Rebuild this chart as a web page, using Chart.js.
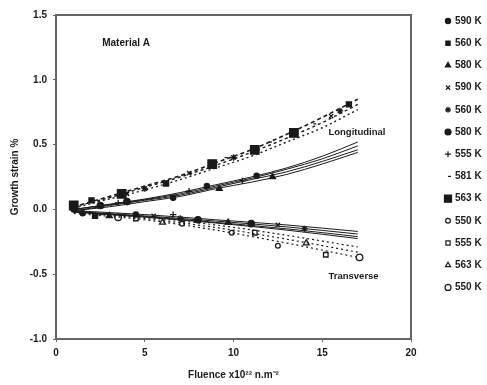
<!DOCTYPE html>
<html>
<head>
<meta charset="utf-8">
<script src="https://cdn.jsdelivr.net/npm/chart.js@4/dist/chart.umd.min.js"></script>
<style>
html,body{margin:0;padding:0;background:#fff;}
#wrap{width:487px;height:385px;position:relative;}
</style>
</head>
<body>
<div id="wrap"><canvas id="c" width="487" height="385"></canvas></div>
<script>
// ---- Data ----
const xTicks = [0, 5, 10, 15, 20];
const yTicks = [-1.0, -0.5, 0.0, 0.5, 1.0, 1.5];

// fitted curves (fluence, growth strain %)
const fitX = [1, 3, 5, 7, 9, 11, 13, 15, 17];
const longDashA = [0.02, 0.10, 0.18, 0.26, 0.36, 0.46, 0.58, 0.71, 0.85];
const longDashB = [0.02, 0.09, 0.17, 0.25, 0.34, 0.44, 0.55, 0.67, 0.81];
const longDashC = [0.01, 0.08, 0.15, 0.23, 0.32, 0.41, 0.52, 0.63, 0.77];
const longSolidA = [0.00, 0.04, 0.08, 0.13, 0.19, 0.25, 0.32, 0.41, 0.52];
const longSolidB = [0.00, 0.035, 0.075, 0.12, 0.18, 0.24, 0.31, 0.39, 0.49];
const longSolidC = [-0.01, 0.03, 0.07, 0.11, 0.17, 0.23, 0.29, 0.37, 0.46];
const longSolidD = [-0.01, 0.02, 0.06, 0.10, 0.16, 0.21, 0.27, 0.35, 0.44];
const transX = [1, 5, 9, 13, 17];
const transSolidA = [-0.01, -0.04, -0.08, -0.12, -0.17];
const transSolidB = [-0.015, -0.05, -0.09, -0.135, -0.19];
const transSolidC = [-0.02, -0.055, -0.10, -0.15, -0.21];
const transSolidD = [-0.02, -0.06, -0.105, -0.16, -0.225];
const transDotA = [-0.02, -0.06, -0.12, -0.20, -0.29];
const transDotB = [-0.02, -0.07, -0.14, -0.23, -0.33];
const transDotC = [-0.03, -0.08, -0.16, -0.26, -0.37];

// measured points per legend series
const seriesLabels = ['590 K','560 K','580 K','590 K','560 K','580 K','555 K','581 K','563 K','550 K','555 K','563 K','550 K'];
const s1x = [1.0, 6.6, 8.5, 11.3, 1.5, 4.5],  s1y = [0.00, 0.09, 0.18, 0.26, -0.03, -0.04];
const s2x = [2.0, 6.2, 1.0, 2.2, 16.5],       s2y = [0.07, 0.20, 0.03, -0.05, 0.81];
const s3x = [9.2, 12.2, 3.0, 9.7],            s3y = [0.16, 0.25, -0.05, -0.10];
const s4x = [4.0, 7.5, 15.5, 5.5, 12.5],      s4y = [0.12, 0.28, 0.72, -0.05, -0.12];
const s5x = [5.0, 10.0, 16.0, 7.0, 14.0],     s5y = [0.16, 0.40, 0.76, -0.07, -0.15];
const s6x = [2.5, 4.0, 8.0, 11.0],            s6y = [0.03, 0.06, -0.08, -0.11];
const s7x = [3.5, 7.5, 10.5, 6.6],            s7y = [0.05, 0.14, 0.22, -0.04];
const s8x = [9.5, 12.0, 14.5, 2.5],           s8y = [0.40, 0.52, 0.66, -0.04];
const s9x = [1.0, 3.7, 8.8, 11.2, 13.4],      s9y = [0.03, 0.12, 0.35, 0.46, 0.59];
const s10x = [7.1, 9.9, 12.5],                s10y = [-0.11, -0.18, -0.28];
const s11x = [4.5, 11.2, 15.2],               s11y = [-0.07, -0.18, -0.35];
const s12x = [6.0, 14.1],                     s12y = [-0.10, -0.26];
const s13x = [3.5, 17.1],                     s13y = [-0.06, -0.37];

// ---- styles ----
const INK = '#1a1a1a';
const markerStyles = [
  {pointStyle:'circle', radius:2.6, fill:true},
  {pointStyle:'rect', radius:3.6, fill:true},
  {pointStyle:'triangle', radius:3.4, fill:true},
  {pointStyle:'crossRot', radius:3, fill:false},
  {pointStyle:'star', radius:3.2, fill:false},
  {pointStyle:'circle', radius:3.2, fill:true},
  {pointStyle:'cross', radius:3.2, fill:false},
  {pointStyle:'dash', radius:3, fill:false},
  {pointStyle:'rect', radius:6, fill:true},
  {pointStyle:'circle', radius:2.4, fill:false},
  {pointStyle:'rect', radius:3.2, fill:false},
  {pointStyle:'triangle', radius:3.4, fill:false},
  {pointStyle:'circle', radius:3.3, fill:false}
];
const seriesX = [s1x,s2x,s3x,s4x,s5x,s6x,s7x,s8x,s9x,s10x,s11x,s12x,s13x];
const seriesY = [s1y,s2y,s3y,s4y,s5y,s6y,s7y,s8y,s9y,s10y,s11y,s12y,s13y];

function pts(xs, ys){ return xs.map((x,i)=>({x:x, y:ys[i]})); }
function fitLine(xs, ys, dash, w){
  return {type:'line', data:pts(xs, ys), showLine:true, pointRadius:0, borderColor:INK,
    borderWidth:w, borderDash:dash, cubicInterpolationMode:'monotone', fill:false};
}

const datasets = [
  fitLine(fitX, longDashA, [4,3], 1.6),
  fitLine(fitX, longDashB, [3,3], 1.4),
  fitLine(fitX, longDashC, [2,3], 1.4),
  fitLine(fitX, longSolidA, [], 1),
  fitLine(fitX, longSolidB, [], 1),
  fitLine(fitX, longSolidC, [], 1),
  fitLine(fitX, longSolidD, [], 1),
  fitLine(transX, transSolidA, [], 1),
  fitLine(transX, transSolidB, [], 1),
  fitLine(transX, transSolidC, [], 1),
  fitLine(transX, transSolidD, [], 1),
  fitLine(transX, transDotA, [2,3], 1.2),
  fitLine(transX, transDotB, [2,3], 1.2),
  fitLine(transX, transDotC, [2,3], 1.2)
];
seriesLabels.forEach((lab, i) => {
  const m = markerStyles[i];
  datasets.push({type:'scatter', label:lab, data:pts(seriesX[i], seriesY[i]), showLine:false,
    pointStyle:m.pointStyle, pointRadius:m.radius, pointHoverRadius:m.radius,
    pointBackgroundColor: m.fill ? INK : '#fff', pointBorderColor:INK, pointBorderWidth:1.3});
});

const FONT = 'Liberation Sans, Arial, sans-serif';

const framePlugin = {
  id:'frame',
  afterDraw(chart){
    const {ctx, chartArea:a, scales} = chart;
    ctx.save();
    ctx.strokeStyle = '#666';
    ctx.lineWidth = 2;
    ctx.strokeRect(a.left, a.top, a.right - a.left, a.bottom - a.top);
    // annotations
    ctx.fillStyle = INK;
    ctx.textBaseline = 'middle';
    ctx.font = 'bold 10px ' + FONT;
    ctx.textAlign = 'center';
    ctx.fillText('Material A', scales.x.getPixelForValue(3.95), scales.y.getPixelForValue(1.28));
    ctx.textAlign = 'left';
    ctx.font = 'bold 9.5px ' + FONT;
    ctx.fillText('Longitudinal', scales.x.getPixelForValue(15.35), scales.y.getPixelForValue(0.595));
    ctx.fillText('Transverse', scales.x.getPixelForValue(15.35), scales.y.getPixelForValue(-0.52));
    // legend
    const lx = 448, ly0 = 21, dy = 22.2;
    ctx.font = 'bold 10px ' + FONT;
    seriesLabels.forEach((lab, i) => {
      const m = markerStyles[i];
      const y = ly0 + i * dy;
      const r = Math.min(m.radius, i === 8 ? 5 : 3);
      ctx.fillStyle = m.fill ? INK : '#fff';
      ctx.strokeStyle = INK;
      ctx.lineWidth = 1.2;
      Chart.helpers.drawPoint(ctx, {pointStyle:m.pointStyle, radius:r, rotation:0, borderWidth:1.2}, lx, y);
      ctx.fillStyle = INK;
      ctx.fillText(lab, 455, y);
    });
    ctx.restore();
  }
};

new Chart(document.getElementById('c'), {
  type:'scatter',
  data:{datasets},
  options:{
    responsive:false,
    animation:false,
    layout:{padding:{left:0, right:76, top:15, bottom:0}},
    plugins:{legend:{display:false}, tooltip:{enabled:false}},
    scales:{
      x:{
        type:'linear', min:0, max:20,
        afterBuildTicks(s){ s.ticks = xTicks.map(v=>({value:v})); },
        afterFit(s){ s.height = 46; },
        grid:{display:true, drawOnChartArea:false, drawTicks:true, tickLength:3, color:'#666'},
        border:{display:false},
        ticks:{color:INK, padding:5, font:{family:FONT, size:10, weight:'bold'}, maxRotation:0,
          callback:(v)=>String(v)},
        title:{display:true, text:'Fluence x10²² n.m⁻²', color:INK, padding:{top:4, bottom:4},
          font:{family:FONT, size:10, weight:'bold'}}
      },
      y:{
        type:'linear', min:-1, max:1.5,
        afterBuildTicks(s){ s.ticks = yTicks.map(v=>({value:v})); },
        afterFit(s){ s.width = 56; },
        grid:{display:true, drawOnChartArea:false, drawTicks:true, tickLength:3, color:'#666'},
        border:{display:false},
        ticks:{color:INK, padding:6, font:{family:FONT, size:10, weight:'bold'},
          callback:(v)=>Number(v).toFixed(1)},
        title:{display:true, text:'Growth strain %', color:INK, padding:{top:9, bottom:0},
          font:{family:FONT, size:10, weight:'bold'}}
      }
    }
  },
  plugins:[framePlugin]
});
</script>
</body>
</html>
